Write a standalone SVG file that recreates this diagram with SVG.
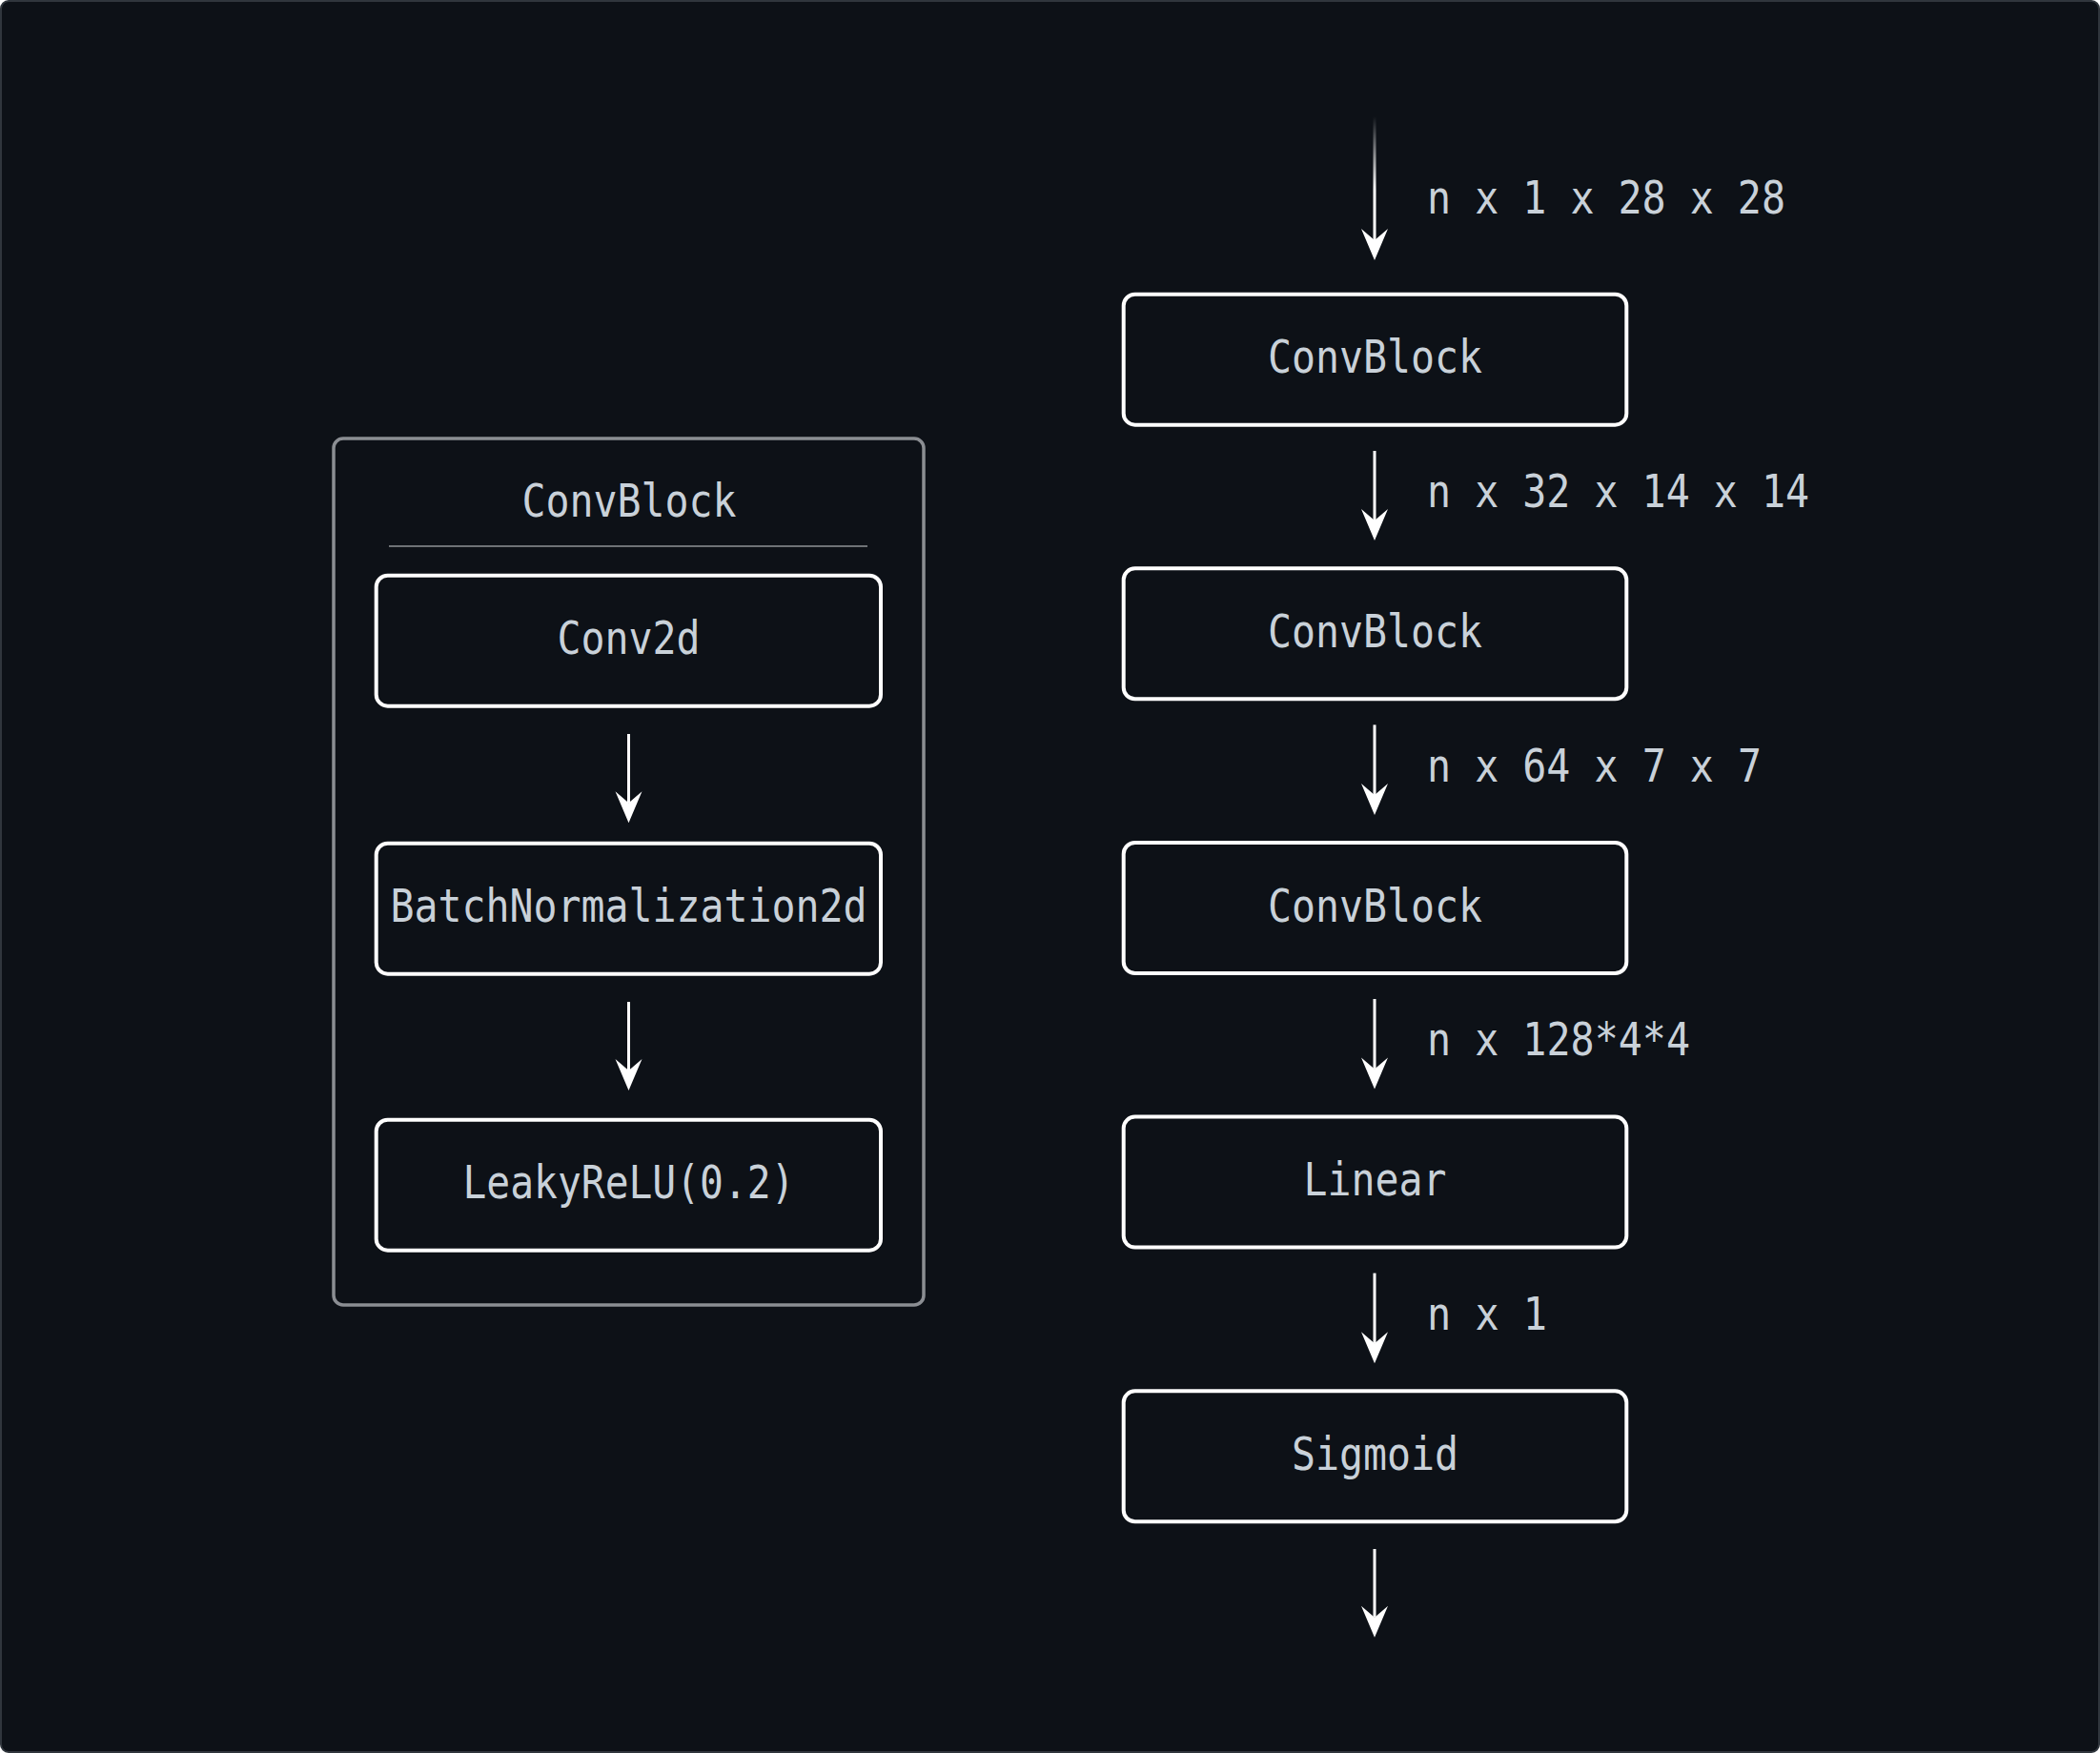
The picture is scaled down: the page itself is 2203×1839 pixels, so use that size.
<svg xmlns="http://www.w3.org/2000/svg" width="2203" height="1839" viewBox="0 0 2203 1839">
  <style>
    .frame { fill: #0d1117; stroke: #30363d; stroke-width: 2; }
    .box { fill: #0d1117; stroke: #ffffff; stroke-width: 4; }
    .group { fill: none; stroke: #8b8e93; stroke-width: 3.5; }
    .divider { stroke: #6e7276; stroke-width: 2; }
    .lbl { font-family: "DejaVu Sans Mono", "Liberation Mono", monospace; font-size: 48px; fill: #c9d1d9; }
    .mid { text-anchor: middle; }
    .edge { stroke: #ffffff; stroke-width: 3; fill: none; marker-end: url(#arrow); }
  </style>
  <defs>
    <marker id="arrow" markerUnits="userSpaceOnUse" viewBox="-14 -16 38 32" markerWidth="38" markerHeight="32" refX="0" refY="0" orient="auto">
      <path d="M21,0 L-12,-14 L0,0 L-12,14 Z" fill="#ffffff"/>
    </marker>
    <linearGradient id="fade" gradientUnits="userSpaceOnUse" x1="0" y1="122" x2="0" y2="200">
      <stop offset="0" stop-color="#ffffff" stop-opacity="0"/>
      <stop offset="1" stop-color="#ffffff" stop-opacity="1"/>
    </linearGradient>
  </defs>

  <rect x="0" y="0" width="2203" height="1839" fill="#ffffff"/>
  <rect class="frame" x="1" y="1" width="2201" height="1837" rx="8"/>

  <!-- Left: ConvBlock detail -->
  <g id="convblock-detail">
    <rect class="group" x="350" y="460" width="619" height="909" rx="10"/>
    <text class="lbl mid" x="660" y="541.7" textLength="225" lengthAdjust="spacingAndGlyphs">ConvBlock</text>
    <line class="divider" x1="408" y1="573" x2="910" y2="573"/>
  </g>
  <g id="conv2d">
    <rect class="box" x="394.7" y="603.7" width="529.3" height="137" rx="12"/>
    <text class="lbl mid" x="659.5" y="685.7" textLength="150" lengthAdjust="spacingAndGlyphs">Conv2d</text>
  </g>
  <g id="batchnorm">
    <rect class="box" x="394.7" y="884.7" width="529.3" height="137" rx="12"/>
    <text class="lbl mid" x="659.5" y="967" textLength="500" lengthAdjust="spacingAndGlyphs">BatchNormalization2d</text>
  </g>
  <g id="leakyrelu">
    <rect class="box" x="394.7" y="1174.7" width="529.3" height="137" rx="12"/>
    <text class="lbl mid" x="659.5" y="1257.3" textLength="348" lengthAdjust="spacingAndGlyphs">LeakyReLU(0.2)</text>
  </g>

  <!-- Right: pipeline -->
  <g id="convblock1">
    <rect class="box" x="1178.7" y="308.7" width="527.6" height="137" rx="12"/>
    <text class="lbl mid" x="1442.5" y="391.4" textLength="225" lengthAdjust="spacingAndGlyphs">ConvBlock</text>
  </g>
  <g id="convblock2">
    <rect class="box" x="1178.7" y="596.3" width="527.6" height="137" rx="12"/>
    <text class="lbl mid" x="1442.5" y="679" textLength="225" lengthAdjust="spacingAndGlyphs">ConvBlock</text>
  </g>
  <g id="convblock3">
    <rect class="box" x="1178.7" y="884" width="527.6" height="137" rx="12"/>
    <text class="lbl mid" x="1442.5" y="966.7" textLength="225" lengthAdjust="spacingAndGlyphs">ConvBlock</text>
  </g>
  <g id="linear">
    <rect class="box" x="1178.7" y="1171.6" width="527.6" height="137" rx="12"/>
    <text class="lbl mid" x="1442.5" y="1254.3" textLength="150" lengthAdjust="spacingAndGlyphs">Linear</text>
  </g>
  <g id="sigmoid">
    <rect class="box" x="1178.7" y="1459.3" width="527.6" height="137" rx="12"/>
    <text class="lbl mid" x="1442.5" y="1542" textLength="175" lengthAdjust="spacingAndGlyphs">Sigmoid</text>
  </g>

  <!-- Connectors -->
  <g id="connectors">
    <line x1="1442" y1="122" x2="1442" y2="252" stroke="url(#fade)" stroke-width="3" marker-end="url(#arrow)"/>
    <line class="edge" x1="1442" y1="473" x2="1442" y2="546"/>
    <line class="edge" x1="1442" y1="760.4" x2="1442" y2="834"/>
    <line class="edge" x1="1442" y1="1048" x2="1442" y2="1121.6"/>
    <line class="edge" x1="1442" y1="1335.6" x2="1442" y2="1409.3"/>
    <line class="edge" x1="1442" y1="1625" x2="1442" y2="1696.7"/>
    <line class="edge" x1="659.5" y1="770" x2="659.5" y2="842.3"/>
    <line class="edge" x1="659.5" y1="1051" x2="659.5" y2="1123"/>
  </g>

  <!-- Edge labels -->
  <g id="edge-labels">
    <text class="lbl" x="1497" y="224" textLength="376" lengthAdjust="spacingAndGlyphs">n x 1 x 28 x 28</text>
    <text class="lbl" x="1497" y="532" textLength="401" lengthAdjust="spacingAndGlyphs">n x 32 x 14 x 14</text>
    <text class="lbl" x="1497" y="819.6" textLength="351" lengthAdjust="spacingAndGlyphs">n x 64 x 7 x 7</text>
    <text class="lbl" x="1497" y="1107.3" textLength="276" lengthAdjust="spacingAndGlyphs">n x 128*4*4</text>
    <text class="lbl" x="1497" y="1395" textLength="126" lengthAdjust="spacingAndGlyphs">n x 1</text>
  </g>
</svg>
